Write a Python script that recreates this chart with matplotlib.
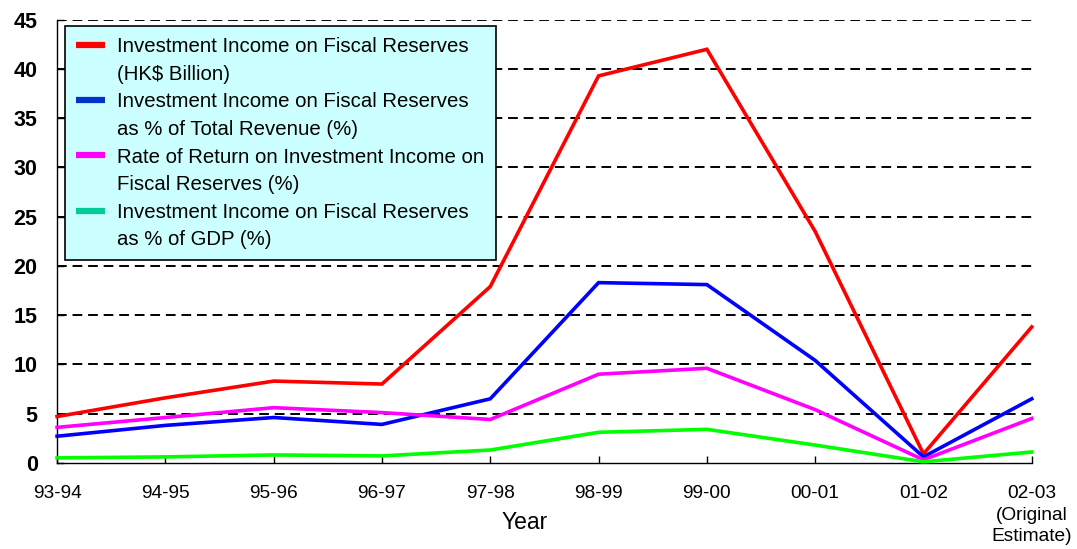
"""
Investment income on fiscal reserves, 1993-94 to 2002-03.

Four series on one axis: income in HK$ billion, share of total revenue,
rate of return, and share of GDP.
"""

import matplotlib
matplotlib.use("Agg")
import matplotlib.pyplot as plt
from matplotlib.lines import Line2D

plt.rcParams["font.family"] = ["Liberation Sans", "DejaVu Sans"]

# ── Data ────────────────────────────────────────────────────────────────────
years = ["93-94", "94-95", "95-96", "96-97", "97-98",
         "98-99", "99-00", "00-01", "01-02", "02-03\n(Original\nEstimate)"]

income_bn = [4.7, 6.6, 8.3, 8.0, 17.9, 39.3, 42.0, 23.5, 0.9, 13.8]
pct_revenue = [2.7, 3.8, 4.6, 3.9, 6.5, 18.3, 18.1, 10.4, 0.6, 6.5]
rate_of_return = [3.6, 4.6, 5.6, 5.1, 4.4, 9.0, 9.6, 5.4, 0.3, 4.5]
pct_gdp = [0.5, 0.6, 0.8, 0.7, 1.3, 3.1, 3.4, 1.8, 0.1, 1.1]

# each legend label is two lines; the key sits beside the first one
labels = [
    ("Investment Income on Fiscal Reserves", "(HK$ Billion)"),
    ("Investment Income on Fiscal Reserves", "as % of Total Revenue (%)"),
    ("Rate of Return on Investment Income on", "Fiscal Reserves (%)"),
    ("Investment Income on Fiscal Reserves", "as % of GDP (%)"),
]
line_colors = ["#FF0000", "#0000FF", "#FF00FF", "#00FF00"]
key_colors = ["#FF0000", "#0033CC", "#FF00FF", "#00CC99"]

# ── Figure ──────────────────────────────────────────────────────────────────
fig = plt.figure(figsize=(10.77, 5.49), dpi=100)
ax = fig.add_axes([0.053, 0.157, 0.905, 0.807])

x = list(range(len(years)))
for series, color in zip([income_bn, pct_revenue, rate_of_return, pct_gdp], line_colors):
    ax.plot(x, series, color=color, lw=2.6, solid_joinstyle="miter",
            clip_on=False, zorder=3)

ax.set_xlim(0, len(years) - 1)
ax.set_ylim(0, 45)
ax.set_yticks(range(0, 50, 5))
ax.set_xticks(x)
ax.set_xticklabels(years, fontsize=13.8, linespacing=1.35)

for lbl in ax.get_yticklabels():
    lbl.set_fontsize(15.5)
    lbl.set_fontweight("bold")

ax.tick_params(axis="both", direction="in", length=5, width=1, color="black")
ax.tick_params(axis="x", pad=16)
ax.tick_params(axis="y", pad=14)

# dashed horizontal gridlines, none on the baseline
for yv in range(5, 50, 5):
    ax.axhline(yv, color="black", lw=1.4, dashes=(5, 3), zorder=1)

ax.spines["top"].set_visible(False)
ax.spines["right"].set_visible(False)
ax.spines["left"].set_linewidth(1.0)
ax.spines["bottom"].set_linewidth(1.0)

ax.set_xlabel("Year", fontsize=16.5, va="center")
ax.xaxis.set_label_coords(0.48, -0.135)

# ── Legend ──────────────────────────────────────────────────────────────────
handles, texts = [], []
for (first, second), c in zip(labels, key_colors):
    handles.append(Line2D([0], [0], color=c, lw=4.5, solid_capstyle="butt"))
    texts.append(first)
    handles.append(Line2D([0], [0], color="none"))
    texts.append(second)

leg = fig.legend(handles, texts, loc="upper left",
                 bbox_to_anchor=(65 / 1077, 1 - 26 / 549),
                 fontsize=14.7, frameon=True, fancybox=False, shadow=False,
                 facecolor="#CCFFFF", edgecolor="black", framealpha=1,
                 handlelength=1.42, handletextpad=0.6, labelspacing=0.42,
                 borderpad=0.55, borderaxespad=0)
leg.get_frame().set_linewidth(1.2)
leg.set_zorder(5)

fig.savefig("out.png", dpi=100)
plt.close(fig)
